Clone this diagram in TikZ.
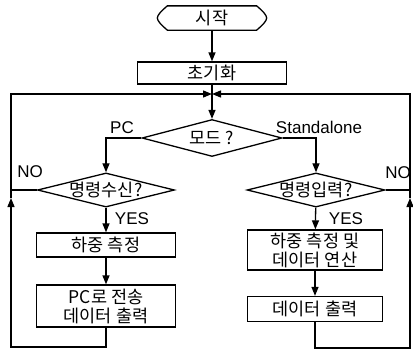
\documentclass[tikz,border=0pt]{standalone}
\usepackage{fontspec}
\setmainfont{Noto Sans CJK KR}
\newfontfamily\latinf{Liberation Sans}
\usetikzlibrary{arrows.meta,shapes.geometric,calc}
\begin{document}
\begin{tikzpicture}[x=1pt,y=-1pt,line width=1.3pt,
  tip/.style={-{Triangle[length=9pt,width=7pt]}},
  kfont/.style={font=\fontsize{17.5}{19}\selectfont},
  lbl/.style={font=\latinf\fontsize{17}{18}\selectfont,inner sep=0pt},
  procbox/.style={draw,rectangle,kfont,align=center,inner sep=0pt},
  decide/.style={draw,diamond,kfont,inner sep=0pt,aspect=4}]
\useasboundingbox (0,0) rectangle (413,351);
\fill[white] (0,0) rectangle (413,351);
% nodes
\node[kfont,minimum width=108pt,minimum height=23pt,inner sep=0pt] (start) at (212,18) {시작};
\node[procbox,minimum width=149pt,minimum height=22pt] (init) at (212,73) {초기화};
\coordinate (J) at (212,94);
\node[decide,minimum width=140pt,minimum height=37pt] (mode) at (212,138) {모드 ?};
\node[decide,minimum width=137pt,minimum height=32pt] (ld) at (106,190) {명령수신?};
\node[decide,minimum width=138pt,minimum height=32pt] (rd) at (316,190) {명령입력?};
\node[procbox,minimum width=139pt,minimum height=24pt] (b1) at (106,245) {하중 측정};
\node[procbox,minimum width=139pt,minimum height=42pt] (b2) at (106,306) {PC로 전송\\데이터 출력};
\node[procbox,minimum width=135pt,minimum height=40pt] (b3) at (315,250) {하중 측정 및\\데이터 연산};
\node[procbox,minimum width=135pt,minimum height=25pt] (b4) at (315,309) {데이터 출력};
% labels
\node[lbl] (pc) at (122,128) {PC};
\node[lbl] (sa) at (319,127) {Standalone};
\node[lbl] (nol) at (30,172) {NO};
\node[lbl] (nor) at (398,173) {NO};
\node[lbl] (yesl) at (132,219) {YES};
\node[lbl] (yesr) at (346,219) {YES};
% loop coordinates
\coordinate (LB) at (11,347);
\coordinate (LA) at (11,198);
\coordinate (LT) at (11,94);
\coordinate (RB) at (410,348);
\coordinate (RA) at (410,198);
\coordinate (RT) at (410,94);
% terminal shape
\draw ($(start.north west)+(10,0)$) -- ($(start.north east)+(-10,0)$)
  .. controls ($(start.east)+(-4,-7)$) and ($(start.east)+(0,-3)$) .. (start.east)
  .. controls ($(start.east)+(0,3)$) and ($(start.east)+(-4,7)$) .. ($(start.south east)+(-10,0)$)
  -- ($(start.south west)+(10,0)$)
  .. controls ($(start.west)+(4,7)$) and ($(start.west)+(0,3)$) .. (start.west)
  .. controls ($(start.west)+(0,-3)$) and ($(start.west)+(4,-7)$) .. ($(start.north west)+(10,0)$) -- cycle;
% connectors
\draw[tip] (start) -- (init);
\draw (init) -- (J);
\draw[tip] (J) -- (mode);
\draw[tip] (mode.west) -| (ld.north);
\draw[tip] (mode.east) -| (rd.north);
\draw[tip] (ld) -- (b1);
\draw[tip] (b1) -- (b2);
\draw[tip] (rd) -- (b3);
\draw[tip] (b3) -- (b4);
\draw (ld.west) -- (ld.west -| LA);
\draw (rd.east) -- (rd.east -| RA);
\draw[tip] (b2.south) |- (LB) -- (LA);
\draw[tip] (LA) -- (LT) -- (J);
\draw[tip] (b4.south) |- (RB) -- (RA);
\draw[tip] (RA) -- (RT) -- (J);
\end{tikzpicture}
\end{document}
